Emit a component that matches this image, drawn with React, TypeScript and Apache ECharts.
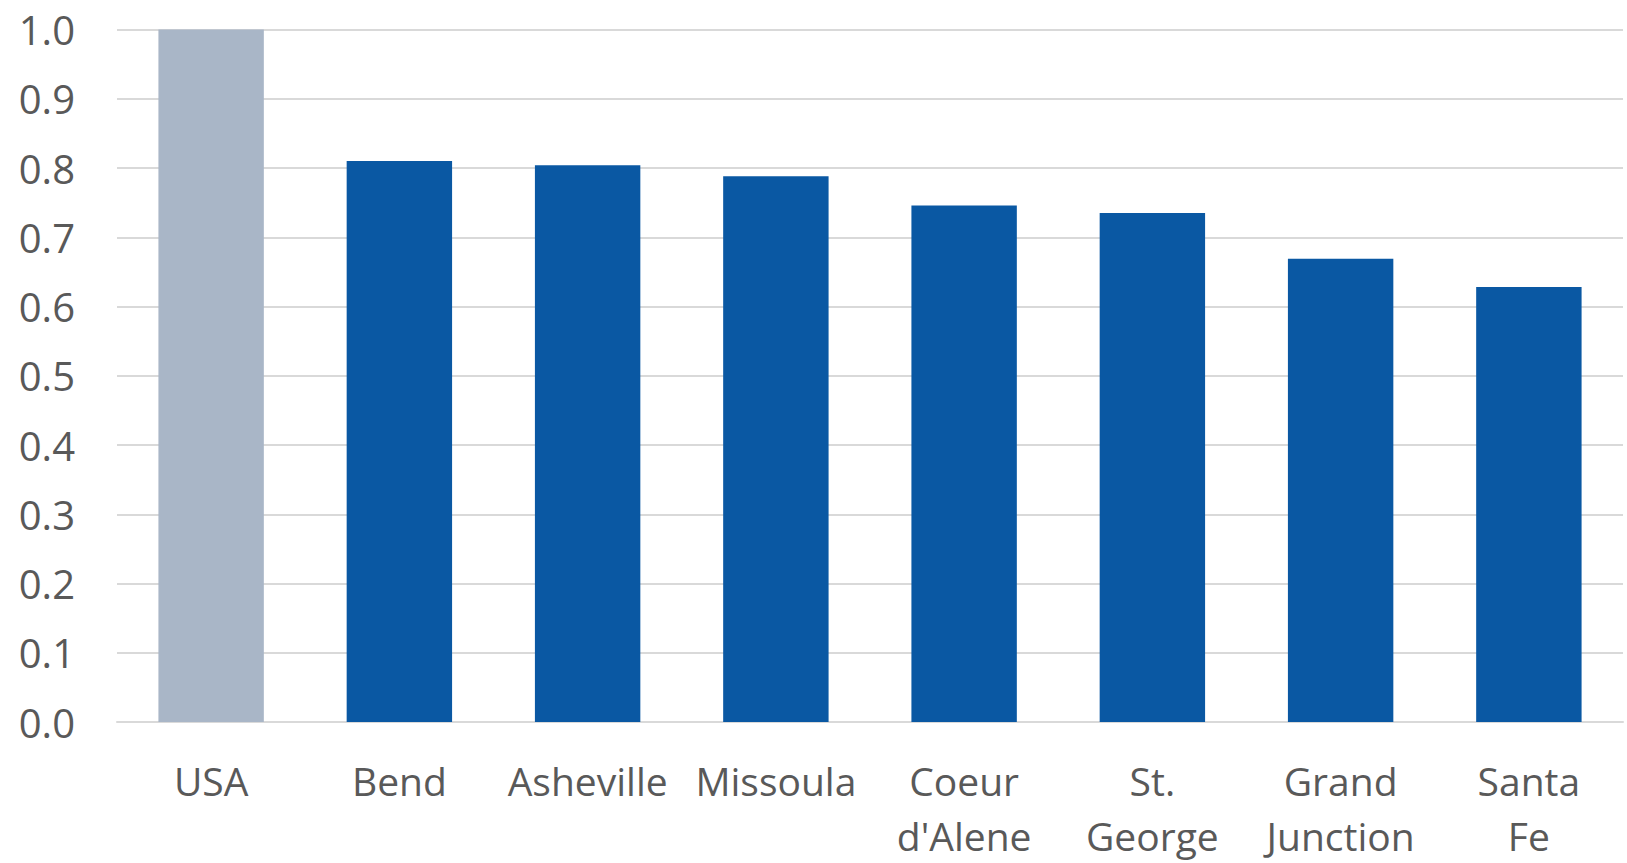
import React, { useEffect, useRef } from "react";
import * as echarts from "echarts";

const categories = ["USA", "Bend", "Asheville", "Missoula", "Coeur\nd'Alene", "St.\nGeorge", "Grand\nJunction", "Santa\nFe"];
const values = [1.0, 0.81, 0.804, 0.788, 0.746, 0.735, 0.669, 0.628];
const highlightCategory = "USA";

export default function App() {
  const ref = useRef<HTMLDivElement>(null);
  useEffect(() => {
    if (!ref.current) return;
    const chart = echarts.init(ref.current, null, { renderer: "svg" });
    chart.setOption({
      animation: false,
      backgroundColor: "#ffffff",
      grid: { left: 117, right: 4, top: 29.5, bottom: 136.5, containLabel: false },
      xAxis: {
        type: "category",
        data: categories,
        axisLine: { show: true, lineStyle: { color: "#d9d9d9", width: 2 } },
        axisTick: { show: false },
        axisLabel: {
          color: "#595959",
          fontFamily: "Open Sans",
          fontSize: 39,
          lineHeight: 55,
          margin: 31,
          interval: 0,
        },
      },
      yAxis: {
        type: "value",
        min: 0,
        max: 1,
        interval: 0.1,
        axisLine: { show: false },
        axisTick: { show: false },
        splitLine: { show: true, lineStyle: { color: "#d9d9d9", width: 2 } },
        axisLabel: {
          color: "#595959",
          fontFamily: "Open Sans",
          fontSize: 40,
          margin: 42,
          formatter: (v: number) => v.toFixed(1),
        },
      },
      series: [
        {
          type: "bar",
          data: values.map((v, i) => ({
            value: v,
            itemStyle: { color: categories[i] === highlightCategory ? "#a9b6c7" : "#0a58a3" },
          })),
          barWidth: "56%",
        },
      ],
    });
    return () => chart.dispose();
  }, []);
  return <div ref={ref} style={{ position: "fixed", left: 0, top: 0, width: 1627, height: 863 }} />;
}
